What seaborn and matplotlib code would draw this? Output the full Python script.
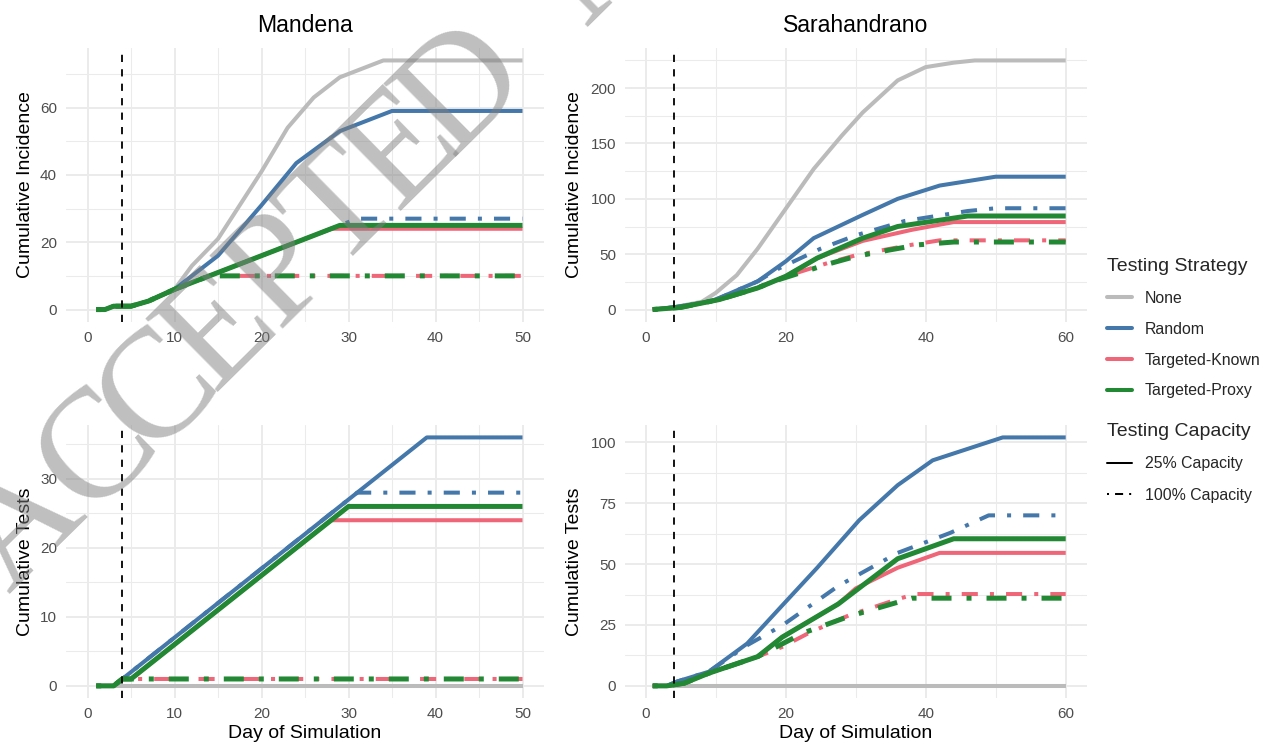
import numpy as np
import pandas as pd
import matplotlib
matplotlib.use("Agg")
import matplotlib.pyplot as plt
import seaborn as sns
from matplotlib.lines import Line2D
from matplotlib.ticker import MultipleLocator

# ---------------- data ----------------
strategies = ["None", "Random", "Targeted-Known", "Targeted-Proxy"]
capacities = ["25% Capacity", "100% Capacity"]
colors = ["#BBBBBB", "#4477AA", "#EE6677", "#228833"]
sites = ["Mandena", "Sarahandrano"]
metrics = ["Cumulative Incidence", "Cumulative Tests"]

# Mandena - cumulative incidence
man_inc_none_d = [1, 2, 3, 5, 7, 10, 12, 15, 20, 23, 26, 29, 34, 50]
man_inc_none_v = [0, 0, 1, 1, 2.5, 6, 13, 21, 41, 54, 63, 69, 74, 74]
man_inc_rand25_d = [1, 2, 3, 5, 7, 10, 15, 20, 24, 29, 35, 50]
man_inc_rand25_v = [0, 0, 1, 1, 2.5, 6, 16, 31, 43.5, 53, 59, 59]
man_inc_rand100_d = [1, 2, 3, 5, 7, 10, 15, 29, 31, 50]
man_inc_rand100_v = [0, 0, 1, 1, 2.5, 6, 11, 25, 27, 27]
man_inc_known25_d = [1, 2, 3, 5, 7, 10, 15, 28, 50]
man_inc_known25_v = [0, 0, 1, 1, 2.5, 6, 11, 24, 24]
man_inc_known100_d = [1, 2, 3, 5, 7, 10, 14, 50]
man_inc_known100_v = [0, 0, 1, 1, 2.5, 6, 10, 10]
man_inc_proxy25_d = [1, 2, 3, 5, 7, 10, 15, 29, 50]
man_inc_proxy25_v = [0, 0, 1, 1, 2.5, 6, 11, 25, 25]
man_inc_proxy100_d = [1, 2, 3, 5, 7, 10, 14, 50]
man_inc_proxy100_v = [0, 0, 1, 1, 2.5, 6, 10, 10]

# Mandena - cumulative tests
man_tst_none_d = [1, 50]
man_tst_none_v = [0, 0]
man_tst_rand25_d = [1, 3, 39, 50]
man_tst_rand25_v = [0, 0, 36, 36]
man_tst_rand100_d = [1, 3, 31, 50]
man_tst_rand100_v = [0, 0, 28, 28]
man_tst_known25_d = [1, 3, 4, 5, 28, 50]
man_tst_known25_v = [0, 0, 1, 1, 24, 24]
man_tst_known100_d = [1, 3, 4, 50]
man_tst_known100_v = [0, 0, 1, 1]
man_tst_proxy25_d = [1, 3, 4, 5, 30, 50]
man_tst_proxy25_v = [0, 0, 1, 1, 26, 26]
man_tst_proxy100_d = [1, 3, 4, 50]
man_tst_proxy100_v = [0, 0, 1, 1]

# Sarahandrano - cumulative incidence
sar_inc_none_d = [1, 4, 8, 10, 13, 16, 20, 24, 28, 31, 36, 40, 44, 47, 60]
sar_inc_none_v = [0, 2, 7, 15, 31, 55, 91, 127, 157, 178, 207, 219, 223, 225, 225]
sar_inc_rand25_d = [1, 4, 8, 10, 16, 20, 24, 31, 36, 42, 50, 60]
sar_inc_rand25_v = [0, 2, 6, 9, 25.5, 43.5, 64.5, 85.5, 100, 112, 120, 120]
sar_inc_rand100_d = [1, 4, 8, 10, 16, 19, 25, 30, 37, 46, 50, 60]
sar_inc_rand100_v = [0, 2, 6, 9, 25.5, 37, 55, 67, 80, 89, 91.5, 91.5]
sar_inc_known25_d = [1, 5, 10.5, 16, 20, 24.5, 31, 38, 44, 60]
sar_inc_known25_v = [0, 2, 9, 19.5, 30, 46.5, 62, 72, 79, 79]
sar_inc_known100_d = [1, 5, 10.5, 16, 18, 22, 26, 30, 35, 38, 42, 60]
sar_inc_known100_v = [0, 2, 9, 19.5, 25, 34, 42, 49, 55, 58.5, 62.5, 62.5]
sar_inc_proxy25_d = [1, 5, 10.5, 16, 20, 24.5, 31, 36, 46, 60]
sar_inc_proxy25_v = [0, 2, 9, 19.5, 30, 46.5, 64.5, 75, 84.5, 84.5]
sar_inc_proxy100_d = [1, 5, 10.5, 16, 18, 22, 26, 30, 35, 39, 44, 60]
sar_inc_proxy100_v = [0, 2, 9, 19.5, 25, 33, 41, 48, 54, 58.5, 61, 61]

# Sarahandrano - cumulative tests
sar_tst_none_d = [1, 60]
sar_tst_none_v = [0, 0]
sar_tst_rand25_d = [1, 3, 4.5, 9, 14.5, 19.5, 24.5, 30.5, 36, 41, 51, 60]
sar_tst_rand25_v = [0, 0, 1.8, 5.8, 17.4, 33, 48.5, 68, 82.4, 92.6, 102, 102]
sar_tst_rand100_d = [1, 3, 4.5, 9, 14.5, 19.5, 27.5, 36, 43.5, 49, 60]
sar_tst_rand100_v = [0, 0, 1.8, 5.8, 16.7, 24.8, 41, 54.6, 62.8, 70, 70]
sar_tst_known25_d = [1, 3, 5.5, 9, 16, 19.5, 27.5, 30, 36, 42, 60]
sar_tst_known25_v = [0, 0, 1.1, 5.2, 12, 20, 33.6, 40, 48.5, 54.6, 54.6]
sar_tst_known100_d = [1, 3, 5.5, 9, 16, 19.5, 23.5, 29, 36, 38.5, 60]
sar_tst_known100_v = [0, 0, 1.1, 5.2, 12, 16, 22, 28.9, 35.6, 37.7, 37.7]
sar_tst_proxy25_d = [1, 3, 5.5, 9, 16, 19.5, 27.5, 36, 44, 60]
sar_tst_proxy25_v = [0, 0, 1.1, 5.2, 12, 20, 33.6, 52.2, 60.4, 60.4]
sar_tst_proxy100_d = [1, 3, 5.5, 9, 16, 17, 22.5, 29, 38, 60]
sar_tst_proxy100_v = [0, 0, 1.1, 5.2, 12, 13.5, 21.7, 28.5, 36, 36]

intervention_day = 4
watermark_letters = ["A", "C", "C", "E", "P", "T", "E", "D", "", "M"]

series = [
    ("Mandena", "Cumulative Incidence", "None", "25% Capacity", man_inc_none_d, man_inc_none_v),
    ("Mandena", "Cumulative Incidence", "Random", "25% Capacity", man_inc_rand25_d, man_inc_rand25_v),
    ("Mandena", "Cumulative Incidence", "Random", "100% Capacity", man_inc_rand100_d, man_inc_rand100_v),
    ("Mandena", "Cumulative Incidence", "Targeted-Known", "25% Capacity", man_inc_known25_d, man_inc_known25_v),
    ("Mandena", "Cumulative Incidence", "Targeted-Known", "100% Capacity", man_inc_known100_d, man_inc_known100_v),
    ("Mandena", "Cumulative Incidence", "Targeted-Proxy", "25% Capacity", man_inc_proxy25_d, man_inc_proxy25_v),
    ("Mandena", "Cumulative Incidence", "Targeted-Proxy", "100% Capacity", man_inc_proxy100_d, man_inc_proxy100_v),
    ("Mandena", "Cumulative Tests", "None", "25% Capacity", man_tst_none_d, man_tst_none_v),
    ("Mandena", "Cumulative Tests", "Random", "25% Capacity", man_tst_rand25_d, man_tst_rand25_v),
    ("Mandena", "Cumulative Tests", "Random", "100% Capacity", man_tst_rand100_d, man_tst_rand100_v),
    ("Mandena", "Cumulative Tests", "Targeted-Known", "25% Capacity", man_tst_known25_d, man_tst_known25_v),
    ("Mandena", "Cumulative Tests", "Targeted-Known", "100% Capacity", man_tst_known100_d, man_tst_known100_v),
    ("Mandena", "Cumulative Tests", "Targeted-Proxy", "25% Capacity", man_tst_proxy25_d, man_tst_proxy25_v),
    ("Mandena", "Cumulative Tests", "Targeted-Proxy", "100% Capacity", man_tst_proxy100_d, man_tst_proxy100_v),
    ("Sarahandrano", "Cumulative Incidence", "None", "25% Capacity", sar_inc_none_d, sar_inc_none_v),
    ("Sarahandrano", "Cumulative Incidence", "Random", "25% Capacity", sar_inc_rand25_d, sar_inc_rand25_v),
    ("Sarahandrano", "Cumulative Incidence", "Random", "100% Capacity", sar_inc_rand100_d, sar_inc_rand100_v),
    ("Sarahandrano", "Cumulative Incidence", "Targeted-Known", "25% Capacity", sar_inc_known25_d, sar_inc_known25_v),
    ("Sarahandrano", "Cumulative Incidence", "Targeted-Known", "100% Capacity", sar_inc_known100_d, sar_inc_known100_v),
    ("Sarahandrano", "Cumulative Incidence", "Targeted-Proxy", "25% Capacity", sar_inc_proxy25_d, sar_inc_proxy25_v),
    ("Sarahandrano", "Cumulative Incidence", "Targeted-Proxy", "100% Capacity", sar_inc_proxy100_d, sar_inc_proxy100_v),
    ("Sarahandrano", "Cumulative Tests", "None", "25% Capacity", sar_tst_none_d, sar_tst_none_v),
    ("Sarahandrano", "Cumulative Tests", "Random", "25% Capacity", sar_tst_rand25_d, sar_tst_rand25_v),
    ("Sarahandrano", "Cumulative Tests", "Random", "100% Capacity", sar_tst_rand100_d, sar_tst_rand100_v),
    ("Sarahandrano", "Cumulative Tests", "Targeted-Known", "25% Capacity", sar_tst_known25_d, sar_tst_known25_v),
    ("Sarahandrano", "Cumulative Tests", "Targeted-Known", "100% Capacity", sar_tst_known100_d, sar_tst_known100_v),
    ("Sarahandrano", "Cumulative Tests", "Targeted-Proxy", "25% Capacity", sar_tst_proxy25_d, sar_tst_proxy25_v),
    ("Sarahandrano", "Cumulative Tests", "Targeted-Proxy", "100% Capacity", sar_tst_proxy100_d, sar_tst_proxy100_v),
]

rows = []
for site, metric, strat, cap, d, v in series:
    for di, vi in zip(d, v):
        rows.append({"site": site, "metric": metric, "strategy": strat,
                     "capacity": cap, "day": di, "value": vi})
df = pd.DataFrame(rows)

# ---------------- style ----------------
sns.set_theme(style="white")
plt.rcParams["font.family"] = ["Liberation Sans", "DejaVu Sans"]

W, H = 1263, 746
fig = plt.figure(figsize=(W / 100, H / 100), dpi=100)

def box(x0, x1, ytop, ybot):
    return [x0 / W, 1 - ybot / H, (x1 - x0) / W, (ybot - ytop) / H]

panel_boxes = {
    ("Mandena", "Cumulative Incidence"): box(65.75, 544.25, 48, 322),
    ("Sarahandrano", "Cumulative Incidence"): box(624.7, 1086.7, 48, 322),
    ("Mandena", "Cumulative Tests"): box(65.75, 544.25, 425, 698.3),
    ("Sarahandrano", "Cumulative Tests"): box(624.7, 1086.7, 425, 698.3),
}
xlims = {"Mandena": (-2.5, 52.5), "Sarahandrano": (-3, 63)}
xsteps = {"Mandena": 10, "Sarahandrano": 20}
ysteps = {("Mandena", "Cumulative Incidence"): 20,
          ("Sarahandrano", "Cumulative Incidence"): 50,
          ("Mandena", "Cumulative Tests"): 10,
          ("Sarahandrano", "Cumulative Tests"): 25}
ylabel_x = {"Mandena": -0.0664, "Sarahandrano": -0.0909}

pal = dict(zip(strategies, colors))
dash_map = {"25% Capacity": "", "100% Capacity": (1, 3, 4, 3)}

for (site, metric), b in panel_boxes.items():
    ax = fig.add_axes(b)
    sub = df[(df.site == site) & (df.metric == metric)]
    sns.lineplot(data=sub, x="day", y="value", hue="strategy", style="capacity",
                 hue_order=strategies, style_order=capacities, palette=pal,
                 dashes=dash_map, estimator=None, sort=False, legend=False,
                 linewidth=2.9, ax=ax)
    for ln in ax.lines:
        if matplotlib.colors.to_hex(ln.get_color()).lower() == "#228833":
            ln.set_linewidth(3.6)
        ln.set_dash_capstyle("butt")
        ln.set_solid_capstyle("butt")
    ax.axvline(intervention_day, color="black", lw=1.3, ls=(0, (4, 4)), zorder=5)

    ymax = sub.value.max()
    ax.set_xlim(*xlims[site])
    ax.set_ylim(-0.05 * ymax, 1.05 * ymax)
    ax.xaxis.set_major_locator(MultipleLocator(xsteps[site]))
    ax.xaxis.set_minor_locator(MultipleLocator(xsteps[site] / 2))
    ax.yaxis.set_major_locator(MultipleLocator(ysteps[(site, metric)]))
    ax.yaxis.set_minor_locator(MultipleLocator(ysteps[(site, metric)] / 2))
    ax.grid(which="major", color="#EBEBEB", lw=1.4)
    ax.grid(which="minor", color="#EBEBEB", lw=0.75)
    ax.set_axisbelow(True)
    for s in ax.spines.values():
        s.set_visible(False)
    ax.tick_params(which="both", length=0, labelsize=11, labelcolor="#4D4D4D", pad=6.3)
    ax.set_facecolor("white")

    ax.set_ylabel(metric, fontsize=14, color="black")
    ax.yaxis.set_label_coords(ylabel_x[site], 0.5)
    if metric == "Cumulative Tests":
        ax.set_xlabel("Day of Simulation", fontsize=14, color="black")
        ax.xaxis.set_label_coords(0.5, -0.096)
    else:
        ax.set_xlabel("")
        ax.set_title(site, fontsize=16.6, pad=11.3, color="black")

# ---------------- legends ----------------
h1 = [Line2D([], [], color=c, lw=2.9) for c in colors]
leg1 = fig.legend(h1, strategies, title="Testing Strategy", loc="upper left",
                  bbox_to_anchor=(1107 / W, 1 - 258 / H), frameon=False,
                  fontsize=11.4, title_fontsize=14, handlelength=1.6,
                  handletextpad=0.8, labelspacing=1.0, alignment="left",
                  borderpad=0, borderaxespad=0)
h2 = [Line2D([], [], color="black", lw=1.45, ls="-"),
      Line2D([], [], color="black", lw=1.45, ls=(0, (1, 3, 4, 3)))]
leg2 = fig.legend(h2, capacities, title="Testing Capacity", loc="upper left",
                  bbox_to_anchor=(1107 / W, 1 - 423 / H), frameon=False,
                  fontsize=11.4, title_fontsize=14, handlelength=1.6,
                  handletextpad=0.8, labelspacing=1.03, alignment="left",
                  borderpad=0, borderaxespad=0)

# ---------------- watermark (letters placed along a diagonal) ----------------
wm_start = np.array([26.8 + 10.0, 502.3 + 10.0])  # pixel centre of first letter
wm_step = np.array([61.2, -60.3])                  # pixel step between letters
for i, ch in enumerate(watermark_letters):
    if not ch:
        continue
    k = i if i < 8 else i + 0.3
    if i == 0:
        k = -0.25
    px, py = wm_start + k * wm_step
    fig.text(px / W, 1 - py / H, ch, rotation=44.6, rotation_mode="anchor",
             ha="center", va="center", fontsize=112, fontweight="normal",
             family="Liberation Serif", color="#808080", alpha=0.5, zorder=20)

fig.savefig("out.png", dpi=100, facecolor="white")
